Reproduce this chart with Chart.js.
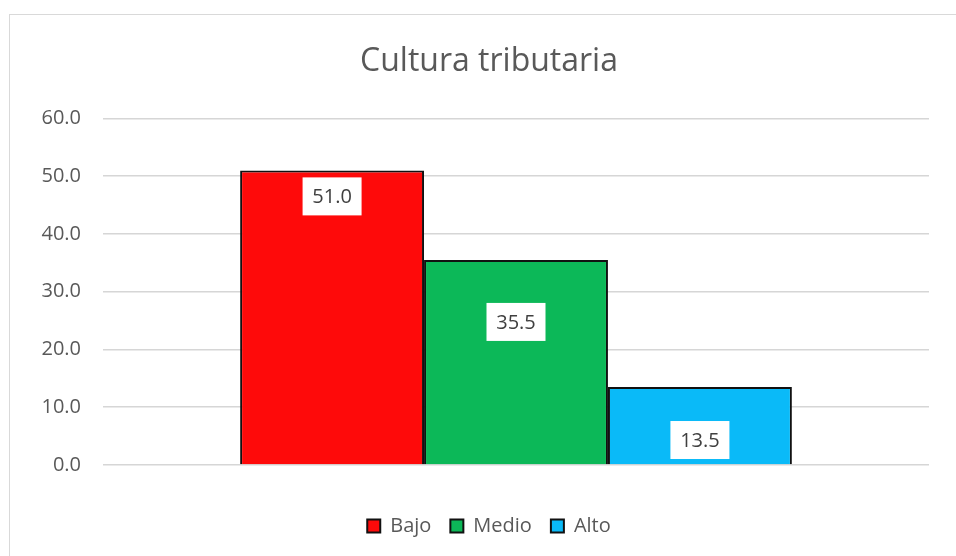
<!DOCTYPE html>
<html>
<head>
<meta charset="utf-8">
<script src="https://cdn.jsdelivr.net/npm/chart.js@4.4.1/dist/chart.umd.min.js"></script>
<style>
  html, body { margin: 0; padding: 0; background: #fff; }
  #wrap { position: relative; width: 956px; height: 556px; }
  #frame {
    position: absolute; left: 9px; top: 14px; right: -5px; bottom: -5px;
    border-left: 1px solid #d9d9d9; border-top: 1px solid #d9d9d9;
  }
  canvas { position: absolute; left: 0; top: 0; }
</style>
</head>
<body>
<div id="wrap">
  <div id="frame"></div>
  <canvas id="chart" width="956" height="556"></canvas>
</div>
<script>
const categories = [''];
const seriesNames = ['Bajo', 'Medio', 'Alto'];
const seriesValues = [51.0, 35.5, 13.5];
const seriesColors = ['#fe0a0a', '#0cb858', '#0abaf8'];
const yTicks = [0, 10, 20, 30, 40, 50, 60];

const textColor = '#595959';
const font = 'Open Sans, Liberation Sans, sans-serif';

// white value boxes, placed like the original (offset below each bar top)
const valueBoxes = {
  id: 'valueBoxes',
  afterDatasetsDraw(chart, args, opts) {
    const ctx = chart.ctx;
    ctx.save();
    chart.data.datasets.forEach((ds, i) => {
      const bar = chart.getDatasetMeta(i).data[0];
      const cy = bar.y + opts.offsets[i];
      const w = 59, h = 38;
      ctx.fillStyle = '#fff';
      ctx.fillRect(bar.x - w / 2, cy - h / 2, w, h);
      ctx.fillStyle = '#404040';
      ctx.font = '20px ' + font;
      ctx.textAlign = 'center';
      ctx.textBaseline = 'middle';
      ctx.fillText(ds.data[0].toFixed(1), bar.x, cy + 1);
    });
    ctx.restore();
  },
};

// y tick labels drawn outside the (narrow) axis box so title/legend stay centred like the original
const yLabels = {
  id: 'yLabels',
  afterDraw(chart) {
    const y = chart.scales.y;
    const ctx = chart.ctx;
    ctx.save();
    ctx.fillStyle = textColor;
    ctx.font = '20px ' + font;
    ctx.textAlign = 'right';
    ctx.textBaseline = 'middle';
    yTicks.forEach((v) => {
      ctx.fillText(v.toFixed(1), y.right - 22, y.getPixelForValue(v));
    });
    ctx.restore();
  },
};

new Chart(document.getElementById('chart'), {
  type: 'bar',
  data: {
    labels: categories,
    datasets: seriesNames.map((name, i) => ({
      label: name,
      data: [seriesValues[i]],
      backgroundColor: seriesColors[i],
      borderColor: '#111',
      borderWidth: 2,
      categoryPercentage: 0.668,
      barPercentage: 1.0,
    })),
  },
  options: {
    responsive: false,
    animation: false,
    layout: { padding: { left: 49, right: 27, top: 0, bottom: 10 } },
    plugins: {
      title: {
        display: true,
        text: 'Cultura tributaria',
        color: textColor,
        font: { family: font, size: 32, weight: 'normal' },
        padding: { top: 43, bottom: 37 },
      },
      legend: {
        position: 'bottom',
        labels: {
          color: textColor,
          font: { family: font, size: 20 },
          boxWidth: 13,
          boxHeight: 13,
          padding: 19,
        },
      },
      tooltip: { enabled: false },
      valueBoxes: { offsets: [26, 62, 53] },
    },
    scales: {
      x: {
        grid: { display: false },
        border: { display: false },
        ticks: { display: false },
        afterFit: (s) => { s.height = 32; },
      },
      y: {
        min: 0,
        max: 60,
        afterBuildTicks: (s) => { s.ticks = yTicks.map((v) => ({ value: v })); },
        afterFit: (s) => { s.width = 54; },
        grid: { color: '#d6d6d6', lineWidth: 1.5, drawTicks: false },
        border: { display: false },
        ticks: { display: false },
      },
    },
  },
  plugins: [valueBoxes, yLabels],
});
</script>
</body>
</html>
